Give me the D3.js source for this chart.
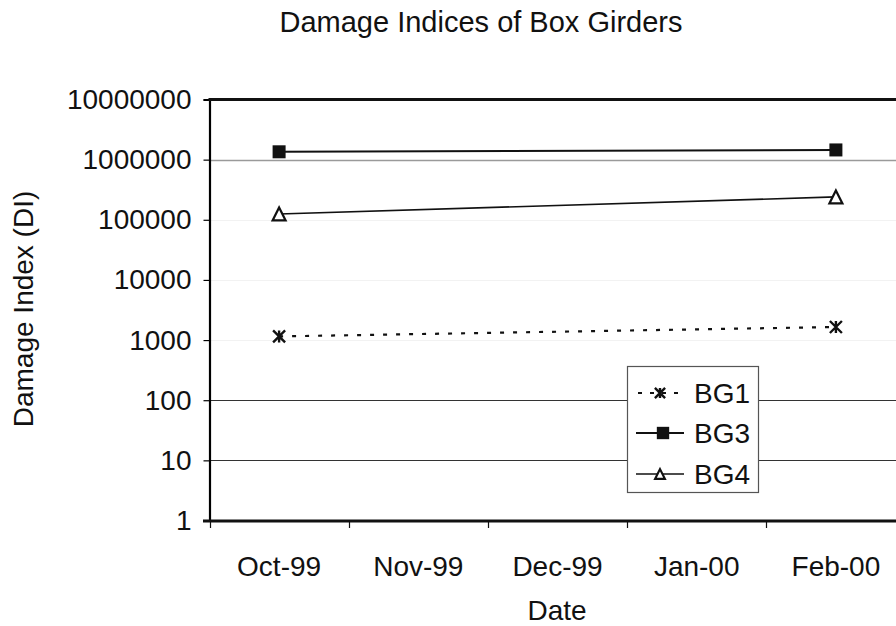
<!DOCTYPE html>
<html>
<head>
<meta charset="utf-8">
<script src="https://cdn.jsdelivr.net/npm/d3@7"></script>
<style>
  html, body { margin: 0; padding: 0; background: #fff; }
  svg { display: block; font-family: "Liberation Sans", Arial, sans-serif; }
</style>
</head>
<body>
<svg id="chart" width="896" height="626"></svg>
<script>
// Monthly inspection dates
const categories = ["Oct-99", "Nov-99", "Dec-99", "Jan-00", "Feb-00"];

// Damage index readings per girder (null = no reading that month)
const bg1 = [1150, null, null, null, 1650];
const bg3 = [1350000, null, null, null, 1450000];
const bg4 = [125000, null, null, null, 240000];

// Decade ticks of the logarithmic axis
const yTicks = [1, 10, 100, 1000, 10000, 100000, 1000000, 10000000];

const seriesList = [
  { name: "BG1", values: bg1 },
  { name: "BG3", values: bg3 },
  { name: "BG4", values: bg4 }
];

const svg = d3.select("#chart");

const x = d3.scaleBand().domain(categories).range([209.5, 905.5]);
const y = d3.scaleLog().domain([1, 10000000]).range([520.5, 99.5]);

// Horizontal gridlines (visible strength varies per decade)
const gridColour = v => v === 1000000 ? "#9a9a9a" : (v === 100 || v === 10) ? "#333" : "#f2f2f2";
svg.append("g")
  .selectAll("line")
  .data(yTicks.filter(v => v > 1 && v < 10000000))
  .join("line")
  .attr("x1", 210).attr("x2", 905)
  .attr("y1", d => Math.round(y(d)) + 0.5)
  .attr("y2", d => Math.round(y(d)) + 0.5)
  .attr("stroke", gridColour)
  .attr("stroke-width", d => d === 1000000 ? 1.6 : 1);

// Y axis
const yAxis = d3.axisLeft(y)
  .tickValues(yTicks)
  .tickFormat(d3.format("d"))
  .tickSize(6)
  .tickPadding(12);
const gy = svg.append("g").attr("transform", "translate(209.5,0)").call(yAxis);
gy.select(".domain").attr("stroke", "#000").attr("stroke-width", 2.2);
gy.selectAll(".tick line").attr("stroke", "#000").attr("stroke-width", 1.2);
gy.selectAll(".tick text")
  .attr("font-size", 28)
  .attr("fill", "#111")
  .attr("font-family", "Liberation Sans, Arial, sans-serif");

// Top border of the plot area
svg.append("line")
  .attr("x1", 208.5).attr("x2", 896)
  .attr("y1", y(10000000)).attr("y2", y(10000000))
  .attr("stroke", "#111").attr("stroke-width", 3);

// X axis: ticks sit between categories
const xAxis = d3.axisBottom(x).tickSize(0).tickPadding(36);
const gx = svg.append("g").attr("transform", "translate(0,520.5)").call(xAxis);
gx.select(".domain").remove();
gx.selectAll(".tick text")
  .attr("font-size", 28)
  .attr("fill", "#111")
  .attr("font-family", "Liberation Sans, Arial, sans-serif");

const edges = categories.map(c => x(c)).concat([x(categories[categories.length - 1]) + x.bandwidth()]);
svg.append("g")
  .selectAll("line")
  .data(edges)
  .join("line")
  .attr("x1", d => Math.round(d) + 0.5).attr("x2", d => Math.round(d) + 0.5)
  .attr("y1", 520).attr("y2", 528)
  .attr("stroke", "#111").attr("stroke-width", 1.2);

svg.append("line")
  .attr("x1", 203).attr("x2", 905)
  .attr("y1", 521).attr("y2", 521)
  .attr("stroke", "#111").attr("stroke-width", 3);

// Series lines
const pts = s => s.values
  .map((v, i) => ({ c: categories[i], v }))
  .filter(p => p.v != null);
const line = d3.line()
  .x(p => x(p.c) + x.bandwidth() / 2)
  .y(p => y(p.v));

const lineStyle = {
  BG1: { width: 2.2, dash: "4,9" },
  BG3: { width: 2, dash: null },
  BG4: { width: 1.6, dash: null }
};

seriesList.forEach(s => {
  svg.append("path")
    .datum(pts(s))
    .attr("d", line)
    .attr("fill", "none")
    .attr("stroke", "#111")
    .attr("stroke-width", lineStyle[s.name].width)
    .attr("stroke-dasharray", lineStyle[s.name].dash);
});

// Marker shapes
function drawMarker(g, name, cx, cy, scale) {
  const k = scale || 1;
  if (name === "BG3") {
    g.append("rect")
      .attr("x", cx - 6.5 * k).attr("y", cy - 6.5 * k)
      .attr("width", 13 * k).attr("height", 13 * k)
      .attr("fill", "#111");
  } else if (name === "BG4") {
    const h = 6.5 * k;
    g.append("path")
      .attr("d", `M${cx},${cy - h}L${cx + h},${cy + h}L${cx - h},${cy + h}Z`)
      .attr("fill", "#fff").attr("stroke", "#111").attr("stroke-width", 2.2);
  } else {
    const r = 6 * k;
    g.append("path")
      .attr("d", `M${cx - r},${cy - r}L${cx + r},${cy + r}M${cx - r},${cy + r}L${cx + r},${cy - r}M${cx},${cy - r}L${cx},${cy + r}`)
      .attr("fill", "none").attr("stroke", "#111").attr("stroke-width", 2.4);
  }
}

seriesList.forEach(s => {
  const g = svg.append("g");
  pts(s).forEach(p => drawMarker(g, s.name, x(p.c) + x.bandwidth() / 2, y(p.v), 1));
});

// Legend
const legend = svg.append("g");
legend.append("rect")
  .attr("x", 627.5).attr("y", 366.5)
  .attr("width", 131).attr("height", 126)
  .attr("fill", "#fff").attr("stroke", "#555").attr("stroke-width", 1.2);
const legendRows = [393, 433, 474];
seriesList.forEach((s, i) => {
  const cy = legendRows[i];
  legend.append("line")
    .attr("x1", 636).attr("x2", 684)
    .attr("y1", cy).attr("y2", cy)
    .attr("stroke", "#111")
    .attr("stroke-width", lineStyle[s.name].width)
    .attr("stroke-dasharray", s.name === "BG1" ? "4,8" : null)
    .attr("stroke-dashoffset", s.name === "BG1" ? -2 : 0);
  drawMarker(legend, s.name, s.name === "BG3" ? 663 : 660, cy, s.name === "BG1" ? 0.85 : (s.name === "BG4" ? 0.75 : 0.95));
  legend.append("text")
    .attr("x", 694).attr("y", cy + 10)
    .attr("font-size", 28).attr("fill", "#111")
    .text(s.name);
});

// Titles
svg.append("text")
  .attr("x", 481).attr("y", 32)
  .attr("text-anchor", "middle")
  .attr("font-size", 29).attr("fill", "#111")
  .text("Damage Indices of Box Girders");

svg.append("text")
  .attr("transform", "translate(33,309) rotate(-90)")
  .attr("text-anchor", "middle")
  .attr("font-size", 28).attr("fill", "#111")
  .text("Damage Index (DI)");

svg.append("text")
  .attr("x", 557).attr("y", 620)
  .attr("text-anchor", "middle")
  .attr("font-size", 28).attr("fill", "#111")
  .text("Date");
</script>
</body>
</html>
